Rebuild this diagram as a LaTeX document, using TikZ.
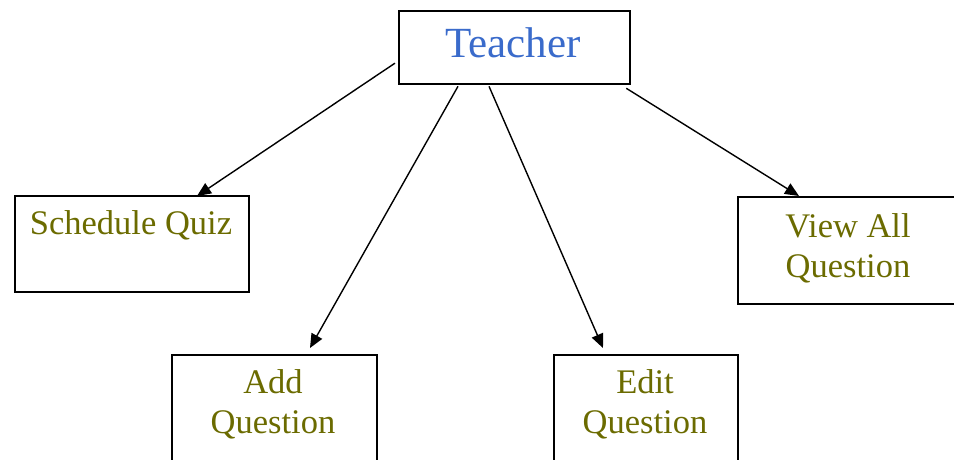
\documentclass[tikz,border=0pt]{standalone}
\usepackage{fontspec}
\setmainfont{Liberation Serif}
\usetikzlibrary{calc,arrows.meta}
\definecolor{olivetxt}{HTML}{6B6B00}
\definecolor{bluetxt}{HTML}{3A6BCB}
\tikzset{
  box/.style={draw=black, line width=2.3pt, fill=none, inner sep=0pt, anchor=north west},
  lbl/.style={text=olivetxt, font=\fontsize{34.5}{40}\selectfont, align=center, inner sep=0pt, anchor=base},
  conn/.style={draw=black, line width=1.4pt, -{Triangle[length=14pt,width=12pt]}, shorten >=0pt}
}
\begin{document}
\begin{tikzpicture}[x=1pt,y=-1pt]
\useasboundingbox (0,0) rectangle (954,459);
% boxes
\node[box, minimum width=231pt, minimum height=73pt] (t) at (398,10) {};
\node[box, minimum width=234pt, minimum height=96pt] (sq) at (14,195) {};
\node[box, minimum width=205pt, minimum height=120pt] (add) at (171,354) {};
\node[box, minimum width=184pt, minimum height=120pt] (edit) at (553,354) {};
\node[box, minimum width=240pt, minimum height=107pt] (view) at (737,196) {};
% labels
\node[lbl, text=bluetxt, font=\fontsize{43}{50}\selectfont] (tt) at (513,57) {Teacher};
\node[lbl] (sqt) at (131,234) {Schedule Quiz};
\node[lbl] (addt) at (273,433) {Add\\Question};
\node[lbl] (editt) at (645,433) {Edit\\Question};
\node[lbl] (viewt) at (848,277) {View All\\Question};
% connectors
\draw[conn] ($(t.west)+(-3,15.5)$) -- ($(sq.north west)+(183,1)$);
\draw[conn] ($(t.south west)+(60,1)$) -- ($(add.north west)+(139,-6)$);
\draw[conn] ($(t.south west)+(91,1)$) -- ($(edit.north west)+(50,-6)$);
\draw[conn] ($(t.south east)+(-5,3)$) -- ($(view.north west)+(62,0)$);
\end{tikzpicture}
\end{document}
